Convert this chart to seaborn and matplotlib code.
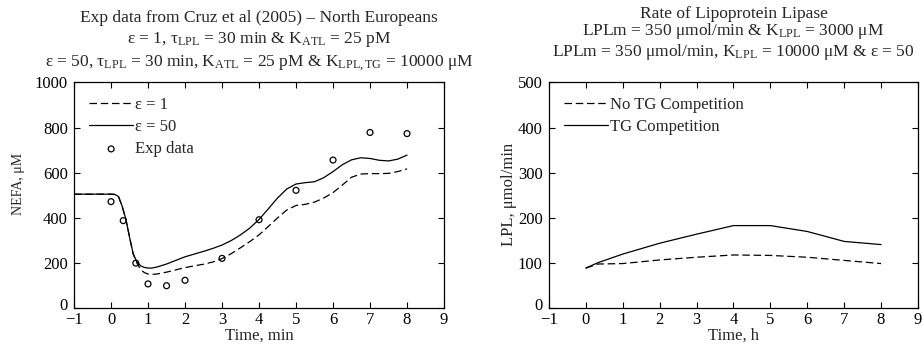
import matplotlib
matplotlib.use("Agg")
import matplotlib.pyplot as plt
import matplotlib.transforms as mtransforms
import seaborn as sns
import pandas as pd

# ---- data (left panel: NEFA, min) ----
t_sim = [-1, -0.5, 0, 0.1, 0.2, 0.3, 0.4, 0.5, 0.6, 0.7, 0.8, 0.9, 1.0, 1.1,
         1.25, 1.5, 1.75, 2.0, 2.25, 2.5, 2.75, 3.0, 3.25, 3.5, 3.75, 4.0,
         4.25, 4.5, 4.75, 5.0, 5.25, 5.5, 5.75, 6.0, 6.25, 6.5, 6.75, 7.0,
         7.25, 7.5, 7.75, 8.0]
nefa_eps50 = [505, 505, 505, 504, 495, 452, 395, 315, 240, 205, 188, 181, 178, 178,
              183, 196, 212, 228, 240, 252, 265, 280, 300, 325, 355, 393,
              440, 488, 528, 550, 556, 560, 578, 605, 635, 657, 666, 663,
              655, 652, 660, 678]
nefa_eps1 = [505, 505, 505, 504, 495, 452, 395, 315, 240, 200, 172, 158, 152, 150,
             152, 160, 170, 180, 188, 195, 205, 220, 242, 268, 295, 325,
             362, 400, 435, 455, 460, 470, 488, 512, 545, 580, 594, 596,
             596, 597, 605, 617]
t_exp = [0, 0.33, 0.67, 1, 1.5, 2, 3, 4, 5, 6, 7, 8]
nefa_exp = [472, 388, 200, 108, 100, 124, 221, 392, 522, 656, 778, 773]

# ---- data (right panel: LPL, h) ----
t_h = [0, 0.33, 1, 2, 3, 4, 5, 6, 7, 8]
lpl_no_tg = [89, 98, 99, 107, 113, 118, 117, 113, 106, 99]
lpl_tg = [89, 101, 120, 144, 164, 183, 183, 170, 148, 141]

xticks = list(range(-1, 10))
left_yticks = [0, 200, 400, 600, 800, 1000]
right_yticks = [0, 100, 200, 300, 400, 500]

sns.set_style("ticks")
plt.rcParams["font.family"] = ["Liberation Serif", "DejaVu Serif"]
plt.rcParams["mathtext.fontset"] = "custom"
plt.rcParams["mathtext.rm"] = "Liberation Serif"
plt.rcParams["mathtext.it"] = "Liberation Serif:italic"
plt.rcParams["font.size"] = 12

fig = plt.figure(figsize=(9.22, 3.52), dpi=100)
axL = fig.add_axes([0.0803, 0.1241, 0.4013, 0.6421])
axR = fig.add_axes([0.5954, 0.1241, 0.4002, 0.6421])

lw = 0.9
dash = (0, (6, 3))

df_sim = pd.DataFrame({"t": t_sim, "e50": nefa_eps50, "e1": nefa_eps1})
df_exp = pd.DataFrame({"t": t_exp, "y": nefa_exp})
sns.lineplot(data=df_sim, x="t", y="e1", ax=axL, color="k", lw=lw,
             linestyle=dash, label="ε = 1", sort=False)
sns.lineplot(data=df_sim, x="t", y="e50", ax=axL, color="k", lw=lw,
             label="ε = 50", sort=False)
sns.scatterplot(data=df_exp, x="t", y="y", ax=axL, marker="o", s=18,
                facecolor="none", edgecolor="k", linewidth=0.9, label="Exp data")

df_r = pd.DataFrame({"t": t_h, "no": lpl_no_tg, "tg": lpl_tg})
sns.lineplot(data=df_r, x="t", y="no", ax=axR, color="k", lw=lw,
             linestyle=dash, label="No TG Competition", sort=False)
sns.lineplot(data=df_r, x="t", y="tg", ax=axR, color="k", lw=lw,
             label="TG Competition", sort=False)

lift = mtransforms.ScaledTranslation(0, 3 / 72, fig.dpi_scale_trans)
for ax, yt, ylim in [(axL, left_yticks, (0, 1000)), (axR, right_yticks, (0, 500))]:
    ax.set_xlim(-1, 9)
    ax.set_ylim(*ylim)
    ax.set_xticks(xticks)
    ax.set_yticks(yt)
    ax.set_xticklabels(["\u2212" + str(-v) if v < 0 else str(v) for v in xticks])
    ax.tick_params(direction="in", top=True, right=True, length=4, width=0.8,
                   labelsize=12, colors="k")
    ax.tick_params(axis="y", pad=4.5)
    ax.tick_params(axis="x", pad=2.5)
    for s in ax.spines.values():
        s.set_visible(True)
        s.set_linewidth(0.9)
        s.set_color("k")
    ax.legend(loc="upper left", frameon=False, fontsize=12, handlelength=2.65,
              handletextpad=0.12, labelspacing=0.36, borderaxespad=0.5,
              borderpad=0.4, markerscale=1.0)
    # nudge the "0" y tick label up slightly so it clears the "-1" x label
    t0 = ax.yaxis.get_major_ticks()[0]
    t0.label1.set_transform(t0.label1.get_transform() + lift)

axL.set_xlabel("Time, min", fontsize=12, labelpad=0)
axL.set_ylabel("NEFA, μM", fontsize=10)
axL.yaxis.set_label_coords(-0.132, 0.55)
axR.set_xlabel("Time, h", fontsize=12, labelpad=0)
axR.set_ylabel("LPL, μmol/min", fontsize=12)
axR.yaxis.set_label_coords(-0.087, 0.505)

cxL = 0.0803 + 0.4013 / 2
cxR = 0.5954 + 0.4002 / 2
H = 352.0
fs = 12.5
fig.text(cxL, 1 - 22 / H, "Exp data from Cruz et al (2005) \u2013 North Europeans",
         ha="center", va="baseline", fontsize=fs)
fig.text(cxL, 1 - 43 / H, r"ε = 1, τ$_{\rm LPL}$ = 30 min & K$_{\rm ATL}$ = 25 pM",
         ha="center", va="baseline", fontsize=fs)
fig.text(cxL, 1 - 66 / H,
         r"ε = 50, τ$_{\rm LPL}$ = 30 min, K$_{\rm ATL}$ = 25 pM & K$_{\rm LPL,TG}$ = 10000 μM",
         ha="center", va="baseline", fontsize=fs)
fig.text(cxR, 1 - 17.5 / H, "Rate of Lipoprotein Lipase",
         ha="center", va="baseline", fontsize=fs)
fig.text(cxR, 1 - 35 / H, r"LPLm = 350 μmol/min & K$_{\rm LPL}$ = 3000 μM",
         ha="center", va="baseline", fontsize=fs)
fig.text(cxR, 1 - 56 / H, r"LPLm = 350 μmol/min, K$_{\rm LPL}$ = 10000 μM & ε = 50",
         ha="center", va="baseline", fontsize=fs)

fig.savefig("out.png", dpi=100)
